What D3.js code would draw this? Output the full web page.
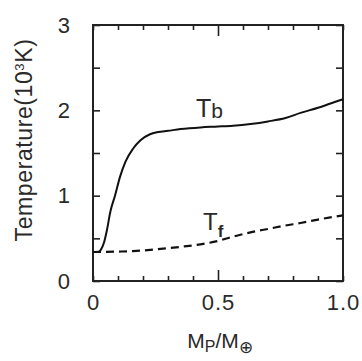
<!DOCTYPE html>
<html>
<head>
<meta charset="utf-8">
<script src="https://cdn.jsdelivr.net/npm/d3@7"></script>
<style>
  body { margin: 0; background: #fff; }
  svg text { font-family: "Liberation Sans", Arial, sans-serif; fill: #2a2a2a; }
</style>
</head>
<body>
<div id="chart"></div>
<script>
// data
const tbMass = [0, 0.02, 0.03, 0.045, 0.056, 0.07, 0.088, 0.108, 0.13, 0.16, 0.19, 0.228, 0.26, 0.3, 0.35, 0.43, 0.5, 0.56, 0.63, 0.70, 0.77, 0.83, 0.9, 0.95, 1.0];
const tbTemp = [0.34, 0.34, 0.36, 0.46, 0.6, 0.82, 1.0, 1.22, 1.40, 1.55, 1.65, 1.72, 1.745, 1.76, 1.78, 1.80, 1.81, 1.82, 1.84, 1.87, 1.91, 1.97, 2.03, 2.08, 2.13];
const tfMass = [0, 0.1, 0.16, 0.25, 0.35, 0.43, 0.5, 0.56, 0.63, 0.70, 0.77, 0.83, 0.9, 1.0];
const tfTemp = [0.34, 0.345, 0.35, 0.37, 0.40, 0.43, 0.47, 0.52, 0.57, 0.61, 0.65, 0.68, 0.72, 0.77];
const xTicks = [0, 0.1, 0.2, 0.3, 0.4, 0.5, 0.6, 0.7, 0.8, 0.9, 1.0];
const xLabels = [0, 0.5, 1.0];
const yTicks = [0, 0.5, 1, 1.5, 2, 2.5, 3];
const yLabels = [0, 1, 2, 3];

const W = 362, H = 361;
const margin = { top: 25, right: 19, bottom: 80, left: 93 };
const width = W - margin.left - margin.right;
const height = H - margin.top - margin.bottom;

const svg = d3.select("#chart").append("svg")
  .attr("width", W).attr("height", H);
const g = svg.append("g").attr("transform", `translate(${margin.left},${margin.top})`);

const x = d3.scaleLinear().domain([0, 1]).range([0, width]);
const y = d3.scaleLinear().domain([0, 3]).range([height, 0]);

// axes, ticks pointing inward
const fmtX = d => xLabels.includes(d) ? (d === 0 ? "0" : d3.format(".1f")(d)) : "";
const fmtY = d => yLabels.includes(d) ? String(d) : "";

const axBottom = g.append("g").attr("transform", `translate(0,${height})`)
  .call(d3.axisBottom(x).tickValues(xTicks).tickSize(-5).tickSizeOuter(0).tickPadding(13).tickFormat(fmtX));
const axTop = g.append("g")
  .call(d3.axisTop(x).tickValues(xTicks).tickSize(-5).tickSizeOuter(0).tickFormat(""));
const axLeft = g.append("g")
  .call(d3.axisLeft(y).tickValues(yTicks).tickSize(-7).tickSizeOuter(0).tickPadding(22).tickFormat(fmtY));
const axRight = g.append("g").attr("transform", `translate(${width},0)`)
  .call(d3.axisRight(y).tickValues(yTicks).tickSize(-7).tickSizeOuter(0).tickFormat(""));

// longer middle tick at 0.5
axBottom.selectAll(".tick line").filter(d => d === 0.5).attr("y2", -11);
axTop.selectAll(".tick line").filter(d => d === 0.5).attr("y2", 11);

[axBottom, axTop, axLeft, axRight].forEach(a => {
  a.select(".domain").remove();
  a.selectAll(".tick line").attr("stroke", "#222").attr("stroke-width", 1.6);
  a.selectAll(".tick text").style("font-size", "22px").style("letter-spacing", "1px").attr("fill", "#2a2a2a");
});

g.append("rect")
  .attr("width", width).attr("height", height)
  .attr("fill", "none").attr("stroke", "#222").attr("stroke-width", 2);

// curves
const line = d3.line().x(d => x(d[0])).y(d => y(d[1])).curve(d3.curveMonotoneX);

g.append("path")
  .datum(d3.zip(tfMass, tfTemp))
  .attr("d", line)
  .attr("fill", "none").attr("stroke", "#111").attr("stroke-width", 2.2)
  .attr("stroke-dasharray", "8,5");

g.append("path")
  .datum(d3.zip(tbMass, tbTemp))
  .attr("d", line)
  .attr("fill", "none").attr("stroke", "#111").attr("stroke-width", 2);

// curve labels
const tb = svg.append("text").attr("x", 196).attr("y", 117).style("font-size", "25px");
tb.append("tspan").text("T");
tb.append("tspan").attr("dy", 1).style("font-size", "21px").text("b");

const tf = svg.append("text").attr("x", 203).attr("y", 230).style("font-size", "24px");
tf.append("tspan").text("T");
tf.append("tspan").attr("dy", 7).style("font-size", "17px").style("font-weight", "bold").text("f");

// axis titles
const yt = svg.append("text")
  .attr("transform", "translate(32,140) rotate(-90)")
  .attr("text-anchor", "middle")
  .style("font-size", "23px")
  .style("letter-spacing", "0.6px");
yt.append("tspan").text("Temperature(10");
yt.append("tspan").attr("dy", -8).style("font-size", "13px").text("3");
yt.append("tspan").attr("dy", 8).text("K)");

const xt = svg.append("text")
  .attr("x", 220).attr("y", 348)
  .attr("text-anchor", "middle")
  .style("font-size", "21px");
xt.append("tspan").text("M");
xt.append("tspan").attr("dy", 4).style("font-size", "16px").text("P");
xt.append("tspan").attr("dy", -4).text("/M");
xt.append("tspan").attr("dy", 5).style("font-size", "17px").text("⊕");
</script>
</body>
</html>
